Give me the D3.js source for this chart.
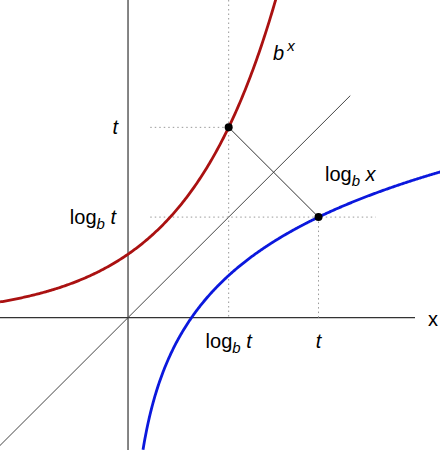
<!DOCTYPE html><html><head><meta charset="utf-8">
<script src="https://cdn.jsdelivr.net/npm/d3@7"></script>
<style>body{margin:0;background:#fff}</style></head><body>
<svg id="c" width="440" height="450"></svg>
<script>
const base = [2];
const tVal = [3];
const xDomain = [-2.016, 4.913];
const yDomain = [-2.087, 5.008];
const labels = ["t", "log", "b", "x"];

const svg = d3.select("#c");
const x = d3.scaleLinear().domain(xDomain).range([0,440]);
const y = d3.scaleLinear().domain(yDomain).range([450,0]);
const b = base[0], t = tVal[0], lt = Math.log(t)/Math.log(b);
const font = "Liberation Sans, Arial, sans-serif";

// axes
svg.append("line").attr("x1",0).attr("x2",415).attr("y1",y(0)).attr("y2",y(0)).attr("stroke","#333").attr("stroke-width",1.2);
svg.append("line").attr("x1",x(0)).attr("x2",x(0)).attr("y1",0).attr("y2",450).attr("stroke","#333").attr("stroke-width",1.2);
svg.append("text").attr("x",428).attr("y",y(0)+8).attr("font-family",font).attr("font-size",20).text("x");

// diagonal
svg.append("line").attr("x1",x(-2.016)).attr("y1",y(-2.016)).attr("x2",x(3.5)).attr("y2",y(3.5)).attr("stroke","#444").attr("stroke-width",1);

// dotted guides
const dot = {stroke:"#999","stroke-dasharray":"1.5,3","stroke-width":1};
function dl(x1,y1,x2,y2){const l=svg.append("line").attr("x1",x1).attr("y1",y1).attr("x2",x2).attr("y2",y2);for(const k in dot)l.attr(k,dot[k]);}
dl(x(lt),0,x(lt),y(0));
dl(x(0.35),y(t),x(lt),y(t));
dl(x(0.35),y(lt),x(3.9),y(lt));
dl(x(t),y(lt),x(t),y(0));

// connecting line
svg.append("line").attr("x1",x(lt)).attr("y1",y(t)).attr("x2",x(t)).attr("y2",y(lt)).attr("stroke","#333").attr("stroke-width",1);

// curves
const line = d3.line().x(d=>x(d[0])).y(d=>y(d[1]));
const expPts = d3.range(xDomain[0], 2.35, 0.02).map(v=>[v, Math.pow(b,v)]);
const logPts = d3.range(0.236, 4.95, 0.01).map(v=>[v, Math.log(v)/Math.log(b)]);
svg.append("path").attr("d",line(expPts)).attr("fill","none").attr("stroke","#aa1111").attr("stroke-width",2.8);
svg.append("path").attr("d",line(logPts)).attr("fill","none").attr("stroke","#0b18dd").attr("stroke-width",2.8);

// points
svg.append("circle").attr("cx",x(lt)).attr("cy",y(t)).attr("r",4).attr("fill","#000");
svg.append("circle").attr("cx",x(t)).attr("cy",y(lt)).attr("r",4).attr("fill","#000");

function logLabel(px,py,anchor,arg){
  const tx=svg.append("text").attr("x",px).attr("y",py).attr("font-family",font).attr("font-size",20).attr("text-anchor",anchor);
  tx.append("tspan").text(labels[1]);
  tx.append("tspan").attr("font-style","italic").attr("font-size",15).attr("dy",5).text(labels[2]);
  tx.append("tspan").attr("font-style","italic").attr("dy",-5).text(" "+arg);
}
svg.append("text").attr("x",x(0)-10).attr("y",y(t)+7).attr("text-anchor","end").attr("font-family",font).attr("font-size",20).attr("font-style","italic").text(labels[0]);
logLabel(x(0)-12,y(lt)+7,"end",labels[0]);
logLabel(x(lt),y(0)+30,"middle",labels[0]);
svg.append("text").attr("x",x(t)).attr("y",y(0)+30).attr("text-anchor","middle").attr("font-family",font).attr("font-size",20).attr("font-style","italic").text(labels[0]);
logLabel(325,181,"start",labels[3]);
const bx=svg.append("text").attr("x",273).attr("y",60).attr("font-family",font).attr("font-size",20).attr("font-style","italic");
bx.append("tspan").text("b");
bx.append("tspan").attr("font-size",15).attr("dy",-9).attr("dx",3).text(labels[3]);
</script></body></html>
